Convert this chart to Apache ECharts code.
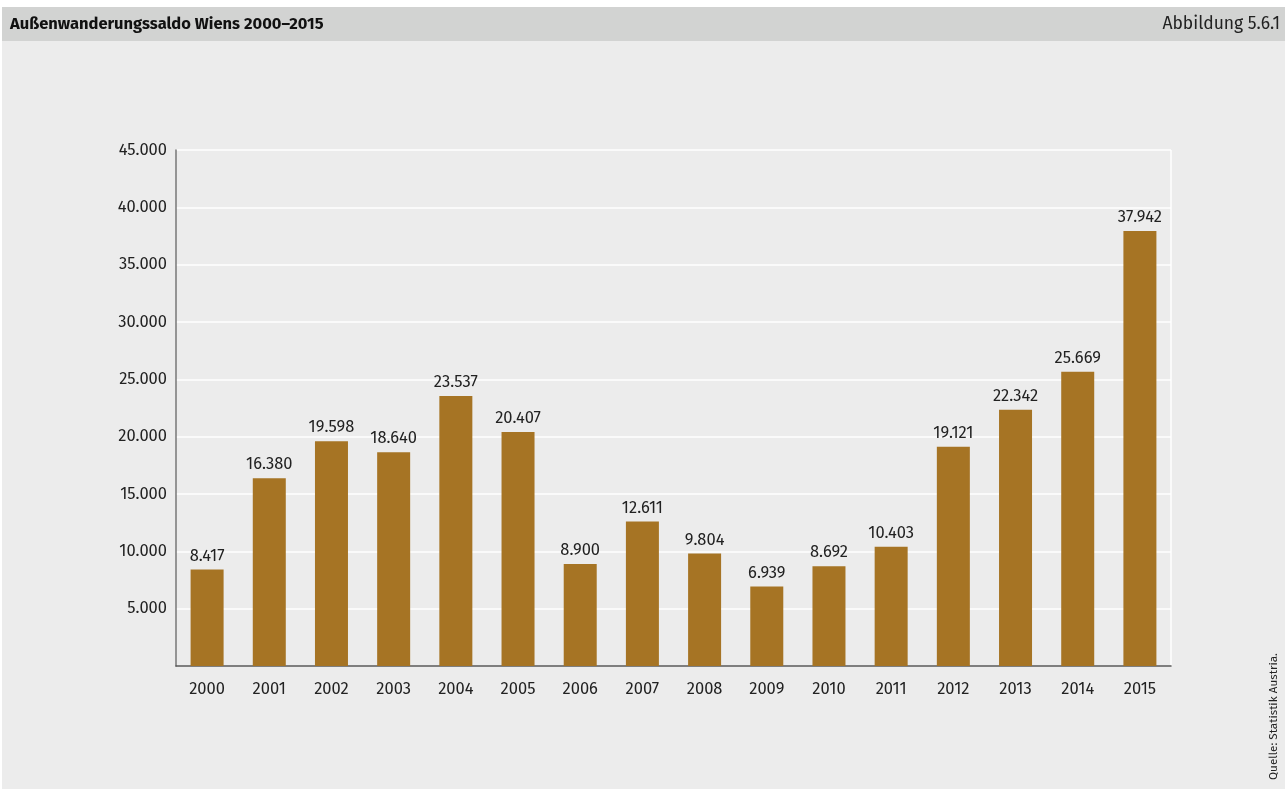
<!DOCTYPE html>
<html>
<head>
<meta charset="utf-8">
<style>
  html, body { margin: 0; padding: 0; background: #ffffff; }
  #chart { width: 1285px; height: 789px; }
</style>
<script src="https://cdn.jsdelivr.net/npm/echarts@6/dist/echarts.min.js"></script>
</head>
<body>
<div id="chart"></div>
<script>
// Außenwanderungssaldo Wiens, Jahreswerte
const years = ['2000','2001','2002','2003','2004','2005','2006','2007','2008','2009','2010','2011','2012','2013','2014','2015'];
const saldo = [8417, 16380, 19598, 18640, 23537, 20407, 8900, 12611, 9804, 6939, 8692, 10403, 19121, 22342, 25669, 37942];

const titleText = 'Außenwanderungssaldo Wiens 2000–2015';
const figureText = 'Abbildung 5.6.1';
const sourceText = 'Quelle: Statistik Austria.';

const fontFamily = '"Fira Sans", "Noto Sans", "Open Sans", sans-serif';

function fmt(v) {
  return String(v).replace(/\B(?=(\d{3})+(?!\d))/g, '.');
}

const chart = echarts.init(document.getElementById('chart'));
chart.setOption({
  backgroundColor: '#ffffff',
  animation: false,
  textStyle: { fontFamily: fontFamily },
  graphic: [
    { type: 'rect', z: -10, shape: { x: 2, y: 41, width: 1283, height: 748 }, style: { fill: '#ececec' } },
    { type: 'rect', z: -10, shape: { x: 2, y: 7, width: 1283, height: 34 }, style: { fill: '#d2d3d2' } },
    // right edge of the plot area
    { type: 'line', z: -5, shape: { x1: 1171, y1: 150, x2: 1171, y2: 666 }, style: { stroke: '#ffffff', lineWidth: 1.5 } },
    { type: 'text', left: 10, top: 16, style: { text: titleText, fontSize: 16.5, fontWeight: 'bold', fill: '#111', fontFamily: fontFamily } },
    { type: 'text', right: 5, top: 15, style: { text: figureText, fontSize: 17.5, fill: '#222', fontFamily: fontFamily } },
    { type: 'text', x: 1268, y: 780, rotation: Math.PI / 2, style: { text: sourceText, fontSize: 11.7, fill: '#222', fontFamily: fontFamily } }
  ],
  grid: { left: 176, right: 114, top: 150, bottom: 123, containLabel: false },
  xAxis: {
    type: 'category',
    data: years,
    axisLine: { lineStyle: { color: '#555', width: 1.5 } },
    axisTick: { show: false },
    axisLabel: { color: '#222', fontSize: 16.5, margin: 15 },
    splitLine: { show: false }
  },
  yAxis: {
    type: 'value',
    min: 0,
    max: 45000,
    interval: 5000,
    axisLine: { show: true, lineStyle: { color: '#777', width: 1.5 } },
    axisTick: { show: false },
    axisLabel: {
      color: '#222', fontSize: 16.5, margin: 9,
      formatter: v => v === 0 ? '' : fmt(v)
    },
    splitLine: { show: true, lineStyle: { color: '#ffffff', width: 1.5 } }
  },
  series: [{
    type: 'bar',
    data: saldo,
    barWidth: 33,
    itemStyle: { color: '#a67424' },
    label: {
      show: true, position: 'top', distance: 5,
      color: '#222', fontSize: 16.5,
      formatter: p => fmt(p.value)
    }
  }]
});
</script>
</body>
</html>
